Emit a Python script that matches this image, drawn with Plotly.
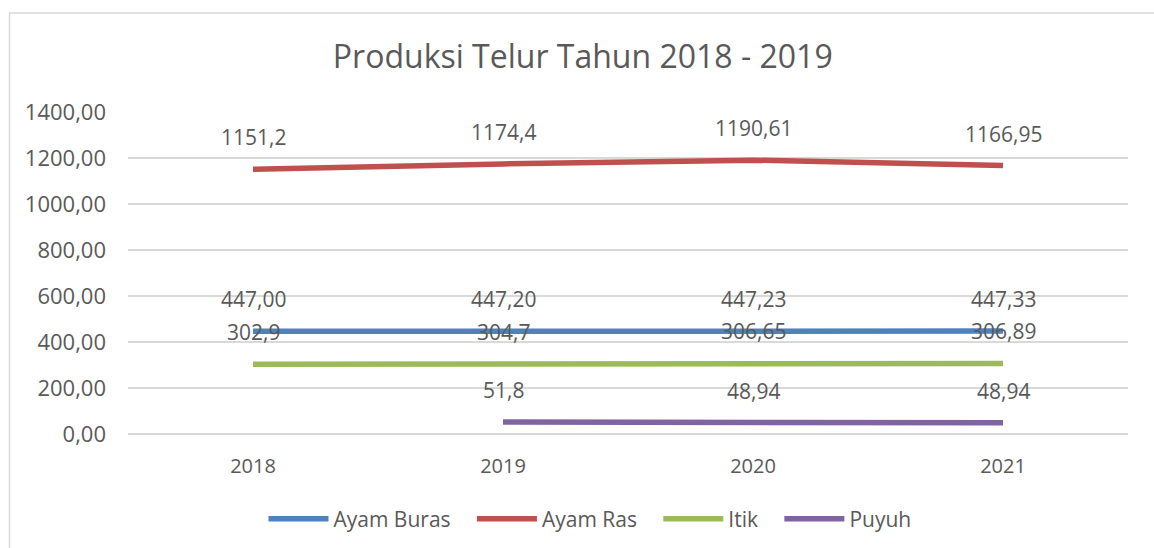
import plotly.graph_objects as go

# Egg production by poultry type
years = ["2018", "2019", "2020", "2021"]
ayam_buras = [447.00, 447.20, 447.23, 447.33]
ayam_ras = [1151.2, 1174.4, 1190.61, 1166.95]
itik = [302.9, 304.7, 306.65, 306.89]
puyuh = [None, 51.8, 48.94, 48.94]

# Labels as printed above each point
ayam_buras_labels = ["447,00", "447,20", "447,23", "447,33"]
ayam_ras_labels = ["1151,2", "1174,4", "1190,61", "1166,95"]
itik_labels = ["302,9", "304,7", "306,65", "306,89"]
puyuh_labels = [None, "51,8", "48,94", "48,94"]

series = [
    ("Ayam Buras", ayam_buras, ayam_buras_labels, "#4F81BD"),
    ("Ayam Ras", ayam_ras, ayam_ras_labels, "#C0504D"),
    ("Itik", itik, itik_labels, "#9BBB59"),
    ("Puyuh", puyuh, puyuh_labels, "#8064A2"),
]

FONT = "Open Sans"
TEXT = "#595959"
LEGEND_PAD = "\u00a0" * 3  # extra room between legend entries

fig = go.Figure()
annotations = []
for k, (name, vals, labels, color) in enumerate(series):
    fig.add_trace(go.Scatter(
        x=years, y=vals, name=name + (LEGEND_PAD if k < len(series) - 1 else ""),
        mode="lines", line=dict(color=color, width=5.5),
        connectgaps=False, hovertemplate=name + ": %{y}<extra></extra>",
    ))
    # category positions are given by index so "2018" is not read as a number
    for i, (v, lab) in enumerate(zip(vals, labels)):
        if v is None:
            continue
        annotations.append(dict(
            x=i, y=v, xref="x", yref="y", text=lab, showarrow=False,
            yshift=32, xanchor="center", yanchor="middle",
            font=dict(family=FONT, size=21, color=TEXT),
        ))

fig.update_layout(
    width=1154, height=548,
    margin=dict(l=128, r=26, t=112, b=114, autoexpand=False),
    paper_bgcolor="white", plot_bgcolor="white",
    separators=", ",
    font=dict(family=FONT, size=20, color=TEXT),
    title=dict(
        text="Produksi Telur Tahun 2018 - 2019",
        x=0.505, xanchor="center", xref="container",
        y=1 - 57 / 548, yanchor="middle", yref="container",
        font=dict(family=FONT, size=32, color=TEXT),
    ),
    xaxis=dict(
        type="category", range=[-0.5, 3.5],
        showgrid=False, zeroline=False, showline=False,
        ticks="", ticklabelstandoff=18,
        tickfont=dict(family=FONT, size=20, color=TEXT),
    ),
    yaxis=dict(
        range=[0, 1400], dtick=200, tick0=0, tickformat=".2f",
        showgrid=True, gridcolor="#D9D9D9", gridwidth=1.5,
        zeroline=True, zerolinecolor="#D9D9D9", zerolinewidth=1.5,
        showline=False, ticks="", ticklabelstandoff=21,
        tickfont=dict(family=FONT, size=22, color=TEXT),
    ),
    legend=dict(
        orientation="h", x=(590 - 128) / 1000, xanchor="center",
        y=(434 - 519) / 322, yanchor="middle",
        font=dict(family=FONT, size=21, color=TEXT),
        itemwidth=60, tracegroupgap=0,
    ),
    annotations=annotations,
    shapes=[dict(
        type="rect", xref="paper", yref="paper",
        x0=(9.5 - 128) / 1000, x1=(1170 - 128) / 1000,
        y0=(434 - 570) / 322, y1=(434 - 13) / 322,
        line=dict(color="#D9D9D9", width=1.5), fillcolor="rgba(0,0,0,0)",
        layer="below",
    )],
)

fig.write_html("out.html")
